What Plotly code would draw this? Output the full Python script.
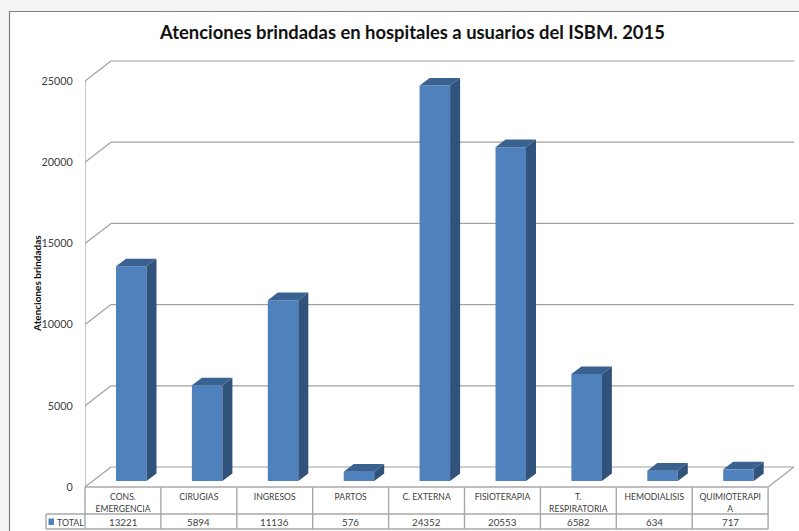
import plotly.graph_objects as go

categories = ["CONS.<br>EMERGENCIA", "CIRUGIAS", "INGRESOS", "PARTOS", "C. EXTERNA",
              "FISIOTERAPIA", "T.<br>RESPIRATORIA", "HEMODIALISIS", "QUIMIOTERAPI<br>A"]
total = [13221, 5894, 11136, 576, 24352, 20553, 6582, 634, 717]
y_ticks = [0, 5000, 10000, 15000, 20000, 25000]
series_name = "TOTAL"
title = "Atenciones brindadas en hospitales a usuarios del ISBM. 2015"
y_title = "Atenciones brindadas"

W, H = 799, 531
L, R, T, B = 85, 794, 55, 487      # plot area, px
CAT = 75.9                         # px per category
VPX = 0.01624                      # px per unit
FRONT, SIDE, TOPC = "#4F81BD", "#31527B", "#3A6291"
GRID, TXT, TBL = "#A0A0A0", "#404040", "#A8A8A8"
FONT = "Lato, Carlito, sans-serif"

xr = [-0.5, -0.5 + (R - L) / CAT]
yr = [0, (B - T) / VPX]
FLOOR_DX, FLOOR_DY = 26 / CAT, 20 / VPX
BAR_SHIFT, BAR_W = (131.25 - 85 - CAT / 2) / CAT, 30.5 / CAT
BAR_BASE = 6 / VPX
DX, DY = 10 / CAT, 7.6 / VPX

px = lambda p: (p - L) / (R - L)
py = lambda p: (B - p) / (B - T)


def pline(x0, y0, x1, y1, color=TBL, width=1.4):
    return dict(type="line", xref="paper", yref="paper", x0=px(x0), x1=px(x1), y0=py(y0), y1=py(y1),
                line=dict(color=color, width=width), layer="below")


shapes = [dict(type="rect", xref="paper", yref="paper", x0=px(9.5), x1=px(830), y0=py(11.5), y1=py(560),
               fillcolor="white", line=dict(color="#808080", width=1.2), layer="below")]

# back wall gridlines with their diagonal return to the front plane
for v in y_ticks:
    shapes.append(dict(type="line", xref="x", yref="y", x0=xr[0], x1=xr[0] + FLOOR_DX, y0=v, y1=v + FLOOR_DY,
                       line=dict(color=GRID, width=1.2), layer="below"))
    shapes.append(dict(type="line", xref="x", yref="y", x0=xr[0] + FLOOR_DX, x1=xr[1], y0=v + FLOOR_DY, y1=v + FLOOR_DY,
                       line=dict(color=GRID, width=1.2), layer="below"))
# front-left axis edge and right floor edge
shapes.append(dict(type="line", xref="x", yref="y", x0=xr[0], x1=xr[0], y0=y_ticks[0], y1=y_ticks[-1],
                   line=dict(color=GRID, width=1.2), layer="below"))
n = len(categories)
shapes.append(dict(type="line", xref="x", yref="y", x0=xr[0] + n, x1=xr[1], y0=0, y1=FLOOR_DY,
                   line=dict(color=GRID, width=1.2), layer="below"))

# data table grid
right = L + n * CAT
shapes.append(pline(L, B, right, B))
shapes.append(pline(46, 514, right, 514))
shapes.append(pline(46, 529, right, 529))
shapes.append(pline(46, 514, 46, 529))
for i in range(n + 1):
    shapes.append(pline(L + i * CAT, B, L + i * CAT, 529))
# legend key
shapes.append(dict(type="rect", xref="paper", yref="paper", x0=px(48.5), x1=px(54), y0=py(518.5), y1=py(525),
                   fillcolor=FRONT, line=dict(width=0)))

xs = [i + BAR_SHIFT for i in range(n)]
side_x, side_y, top_x, top_y = [], [], [], []
for c, v in zip(xs, total):
    x0, x1 = c - BAR_W / 2, c + BAR_W / 2
    t = v + BAR_BASE
    side_x += [x1, x1, x1 + DX, x1 + DX, x1, None]
    side_y += [BAR_BASE, t, t + DY, BAR_BASE + DY, BAR_BASE, None]
    top_x += [x0, x1, x1 + DX, x0 + DX, x0, None]
    top_y += [t, t, t + DY, t + DY, t, None]

fig = go.Figure()
fig.add_bar(x=xs, y=total, base=BAR_BASE, width=BAR_W, name=series_name,
            marker=dict(color=FRONT, line=dict(width=0)), hoverinfo="skip")
fig.add_scatter(x=side_x, y=side_y, mode="none", fill="toself", fillcolor=SIDE, hoverinfo="skip")
fig.add_scatter(x=top_x, y=top_y, mode="none", fill="toself", fillcolor=TOPC, hoverinfo="skip")

anns = [
    dict(text="<b>%s</b>" % title, xref="paper", yref="paper", x=px(412), y=py(32), showarrow=False,
         xanchor="center", yanchor="middle", font=dict(size=18.4, color="#111111", family=FONT)),
    dict(text="<b>%s</b>" % y_title, xref="paper", yref="paper", x=px(37), y=py(283), textangle=-90,
         xanchor="center", yanchor="middle", showarrow=False, font=dict(size=10, color="#111111", family=FONT)),
    dict(text=series_name, xref="paper", yref="paper", x=px(70), y=py(522), showarrow=False,
         xanchor="center", yanchor="middle", font=dict(size=8.8, color=TXT, family=FONT)),
]
for i, v in enumerate(total):
    anns.append(dict(text=str(v), xref="x", x=i, yref="paper", y=py(522), showarrow=False,
                     xanchor="center", yanchor="middle", font=dict(size=9.8, color=TXT, family=FONT)))

fig.update_layout(
    width=W, height=H, margin=dict(l=L, r=W - R, t=T, b=H - B, pad=0, autoexpand=False),
    paper_bgcolor="#F4F4F4", plot_bgcolor="rgba(0,0,0,0)", showlegend=False,
    shapes=shapes, annotations=anns, font=dict(family=FONT, color=TXT),
    xaxis=dict(range=xr, tickmode="array", tickvals=list(range(n)), ticktext=categories, tickangle=0,
               automargin=False, showgrid=False, zeroline=False, showline=False, ticks="outside", ticklen=2,
               tickcolor="rgba(0,0,0,0)", tickfont=dict(size=8.6, color=TXT, family=FONT)),
    yaxis=dict(range=yr, tickmode="array", tickvals=y_ticks, ticktext=[str(v) for v in y_ticks],
               automargin=False, showgrid=False, zeroline=False, showline=False, ticks="outside", ticklen=9,
               tickcolor="rgba(0,0,0,0)", tickfont=dict(size=10.8, color=TXT, family=FONT)),
)

fig.write_html("out.html", config=dict(displayModeBar=False),
               post_script="document.body.style.margin='0';document.body.style.overflow='hidden';")
